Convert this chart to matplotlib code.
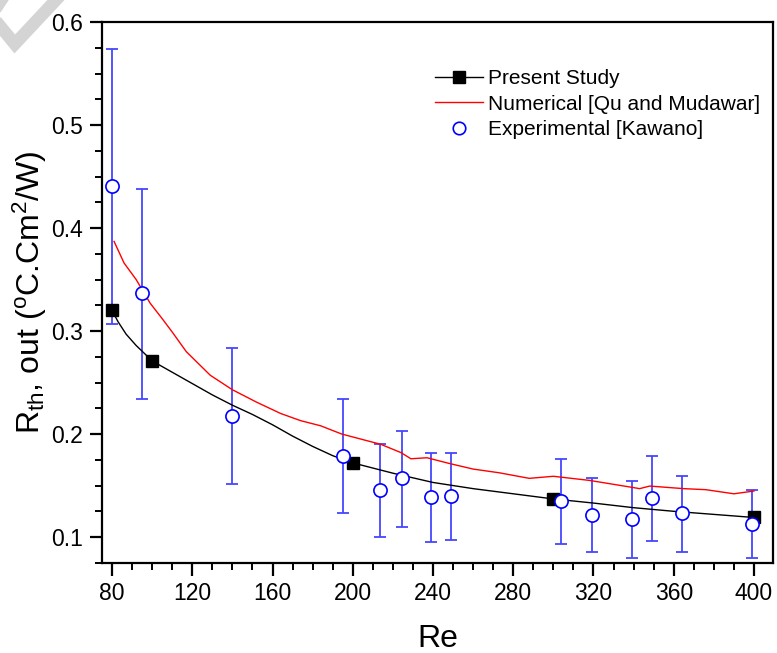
import numpy as np
import matplotlib
matplotlib.use('Agg')
import matplotlib.pyplot as plt
from matplotlib.lines import Line2D
from matplotlib.patches import Polygon
from matplotlib.ticker import MultipleLocator

plt.rcParams['font.family'] = ['Liberation Sans', 'DejaVu Sans']
plt.rcParams['mathtext.fontset'] = 'custom'
plt.rcParams['mathtext.rm'] = 'Liberation Sans'
plt.rcParams['mathtext.it'] = 'Liberation Sans'

# Present study (markers)
re_present = [80, 100, 200, 300, 400]
rth_present = [0.320, 0.271, 0.172, 0.137, 0.119]

# Present study (smooth curve)
re_curve = [80, 83, 87, 92, 100, 110, 120, 130, 140, 150, 160, 170, 180, 190, 200,
            220, 240, 260, 280, 300, 320, 340, 360, 380, 400]
rth_curve = [0.320, 0.309, 0.297, 0.286, 0.271, 0.260, 0.249, 0.238, 0.228, 0.219,
             0.209, 0.198, 0.188, 0.179, 0.172, 0.162, 0.153, 0.147, 0.142, 0.137,
             0.133, 0.1285, 0.125, 0.122, 0.119]

# Numerical [Qu and Mudawar]
re_num = [81, 86, 92, 99, 105, 110, 117, 129, 140, 152, 164, 174, 184, 194.5, 214,
          224, 229, 237, 248, 260, 273, 288, 300, 318, 340, 343, 348, 365, 376, 390, 400]
rth_num = [0.387, 0.366, 0.350, 0.327, 0.312, 0.299, 0.280, 0.257, 0.243, 0.231,
           0.220, 0.213, 0.208, 0.200, 0.190, 0.182, 0.176, 0.177, 0.1715, 0.166,
           0.1624, 0.157, 0.159, 0.155, 0.148, 0.147, 0.1495, 0.147, 0.146, 0.142, 0.1447]

# Experimental [Kawano]
re_exp = [80, 95, 140, 195, 213.5, 224.5, 239, 249, 304, 319.5, 339, 349, 364, 399]
rth_exp = [0.441, 0.337, 0.2175, 0.179, 0.1456, 0.157, 0.1385, 0.1395, 0.135, 0.1217,
           0.1172, 0.1376, 0.123, 0.1123]
err_top = [0.574, 0.438, 0.2835, 0.234, 0.190, 0.2032, 0.1812, 0.1818, 0.176, 0.1576,
           0.154, 0.1783, 0.1595, 0.1456]
err_bot = [0.307, 0.234, 0.1515, 0.1236, 0.100, 0.1094, 0.0955, 0.0971, 0.0935, 0.0851,
           0.0793, 0.0958, 0.0851, 0.0793]

fig = plt.figure(figsize=(7.77, 6.53), dpi=100)
ax = fig.add_axes([0.1313, 0.1378, 0.8636, 0.8285])

yerr = [np.array(rth_exp) - np.array(err_bot), np.array(err_top) - np.array(rth_exp)]
ax.errorbar(re_exp, rth_exp, yerr=yerr, fmt='none', ecolor='#4646ff', elinewidth=1.3,
            capsize=4.5, capthick=1.3, zorder=2)

ax.plot(re_num, rth_num, color='#ff0000', linewidth=1.0, zorder=3)
ax.plot(re_curve, rth_curve, color='black', linewidth=1.0, zorder=3)
ax.plot(re_present, rth_present, 's', color='black', markersize=9, zorder=4)
ax.plot(re_exp, rth_exp, 'o', markerfacecolor='white', markeredgecolor='#0000ff',
        markeredgewidth=1.2, markersize=9.5, zorder=5)

ax.set_xlim(75, 409.5)
ax.set_ylim(0.0748, 0.6)
ax.xaxis.set_major_locator(MultipleLocator(40))
ax.xaxis.set_minor_locator(MultipleLocator(10))
ax.yaxis.set_minor_locator(MultipleLocator(0.025))
ax.set_yticks([0.1, 0.2, 0.3, 0.4, 0.5, 0.6])
ax.set_yticklabels(['0.1', '0.2', '0.3', '0.4', '0.5', '0.6'])

for s in ax.spines.values():
    s.set_linewidth(1.6)
ax.tick_params(which='major', direction='out', length=9, width=1.6, labelsize=16.5,
               top=False, right=False)
ax.tick_params(axis='x', which='major', pad=5)
ax.tick_params(axis='y', which='major', pad=5)
ax.tick_params(which='minor', direction='out', length=5, width=1.4, top=False, right=False)

ax.set_xlabel('Re', fontsize=23, labelpad=13)
ax.set_ylabel(r'R$_{\mathrm{th}}$, out ($^{\mathrm{o}}$C.Cm$^{2}$/W)', fontsize=23, labelpad=1)

handles = [
    Line2D([], [], color='black', linewidth=1.0, marker='s', markersize=9),
    Line2D([], [], color='#ff0000', linewidth=1.0),
    Line2D([], [], linestyle='none', marker='o', markerfacecolor='white',
           markeredgecolor='#0000ff', markeredgewidth=1.2, markersize=9),
]
labels = ['Present Study', 'Numerical [Qu and Mudawar]', 'Experimental [Kawano]']
leg = ax.legend(handles, labels, loc='upper left', bbox_to_anchor=(0.496, 0.913),
                frameon=False, fontsize=15, handlelength=2.3, handletextpad=0.25,
                labelspacing=0.32, borderaxespad=0, borderpad=0)

# faint watermark fragment at the top-left corner
fig.add_artist(Line2D([0.0, 0.019, 0.072], [1 - 26 / 653, 1 - 44 / 653, 1.0],
                      transform=fig.transFigure, color='#d4d4d4', linewidth=9,
                      solid_joinstyle='miter', zorder=0))
fig.add_artist(Polygon([[0, 1], [8 / 777, 1], [0, 1 - 12 / 653]], closed=True,
                       transform=fig.transFigure, color='#d4d4d4', zorder=0))

fig.savefig('out.png', dpi=100)
